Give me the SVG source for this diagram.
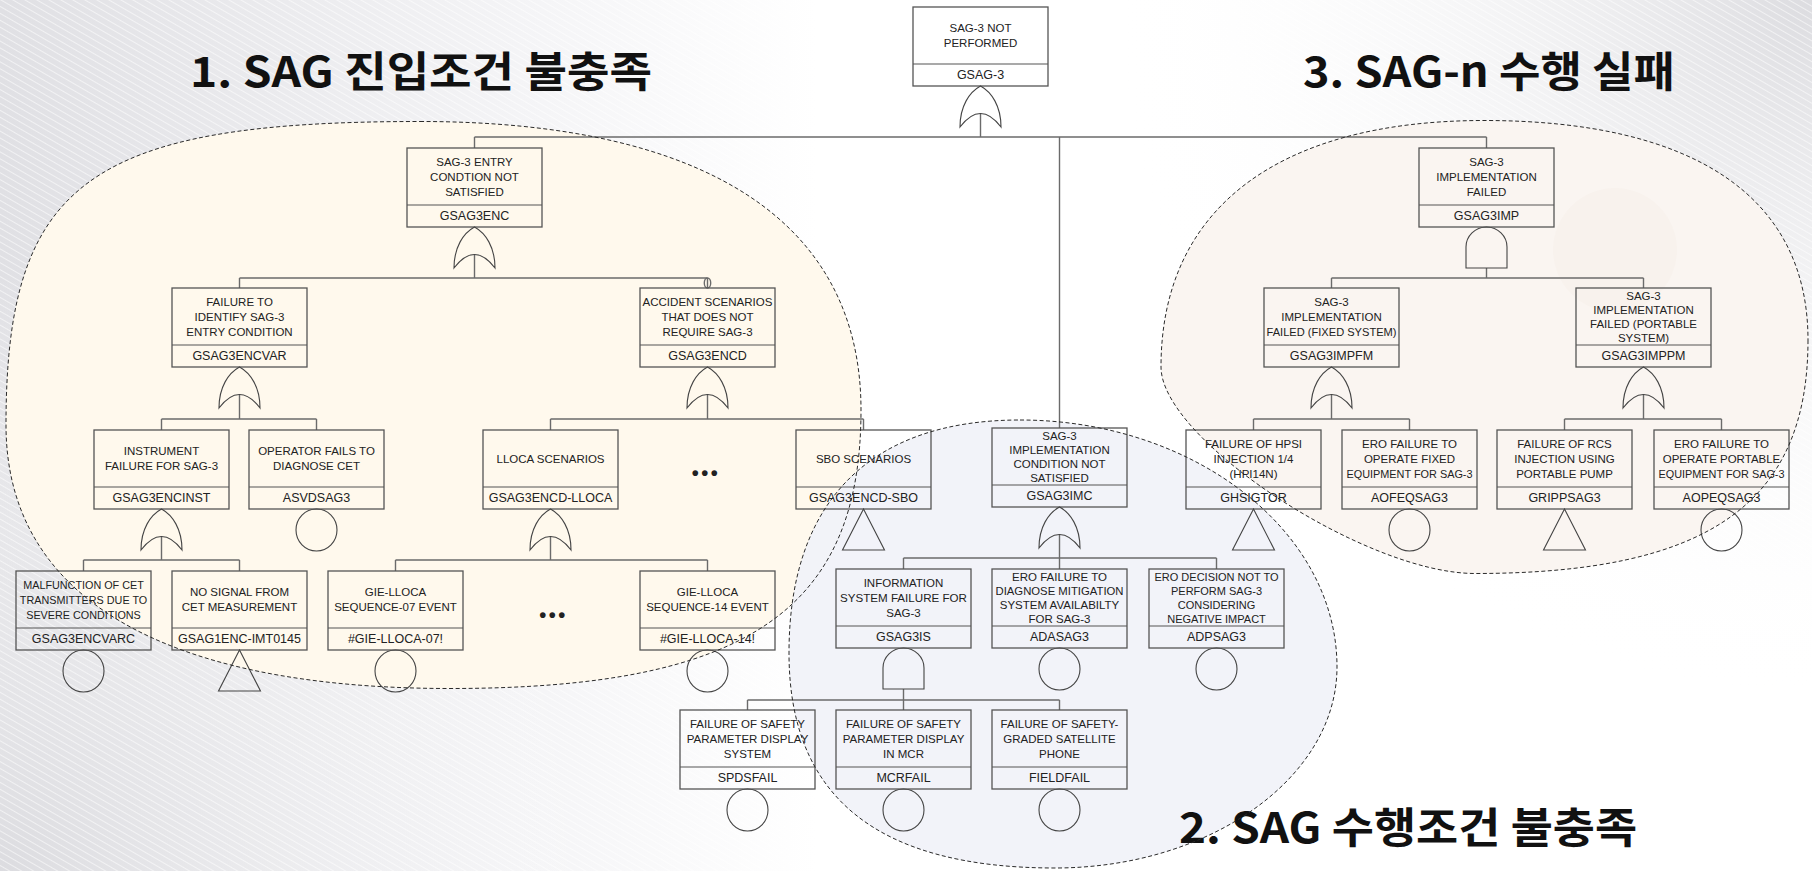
<svg xmlns="http://www.w3.org/2000/svg" width="1812" height="871" viewBox="0 0 1812 871">
<style>
.bx{fill:none;stroke:#555;stroke-width:1.3}
.dv{stroke:#555;stroke-width:1.2}
.t{font-family:"Liberation Sans",Arial,sans-serif;font-size:11.5px;fill:#222;text-anchor:middle;dominant-baseline:central}
.id{font-size:12.5px}
.sm{font-size:10.8px}
.s11{font-size:11px}
.gate{fill:none;stroke:#444;stroke-width:1.1}
.conn{fill:none;stroke:#6b6b6b;stroke-width:1.4}
.rl{fill:none;stroke:#2a2a2a;stroke-width:1;stroke-dasharray:4 2.5}
.ttl{font-family:"Noto Sans CJK KR","Noto Sans CJK SC",sans-serif;font-weight:700;font-size:42px;fill:#111}
.dots{font-family:"Liberation Sans",Arial,sans-serif;font-weight:700;font-size:20px;fill:#222;text-anchor:middle;dominant-baseline:central;letter-spacing:2.5px}
</style>
<defs>
<linearGradient id="bgL" x1="0" y1="0" x2="1" y2="0">
<stop offset="0" stop-color="#e0e0e4"/>
<stop offset="0.3" stop-color="#f5f5f7"/>
<stop offset="0.45" stop-color="#ffffff"/>
<stop offset="1" stop-color="#ffffff"/>
</linearGradient>
<radialGradient id="bgTR" cx="1812" cy="0" r="700" gradientUnits="userSpaceOnUse">
<stop offset="0" stop-color="#dcdce0" stop-opacity="1"/>
<stop offset="1" stop-color="#ffffff" stop-opacity="0"/>
</radialGradient>
<radialGradient id="bgBL" cx="0" cy="871" r="600" gradientUnits="userSpaceOnUse">
<stop offset="0" stop-color="#dcdce0" stop-opacity="1"/>
<stop offset="1" stop-color="#ffffff" stop-opacity="0"/>
</radialGradient>
<pattern id="hatch" width="6" height="6" patternUnits="userSpaceOnUse" patternTransform="rotate(-60)">
<line x1="0" y1="0" x2="0" y2="6" stroke="#ffffff" stroke-width="2" stroke-opacity="0.55"/>
</pattern>
<path id="or" d="M-20.5,41 C-20.5,20 -11,6 0,0 C11,6 20.5,20 20.5,41 Q0,14 -20.5,41 Z"/>
<path id="and" d="M-20.5,41 V20 A20.5,20 0 0 1 20.5,20 V41 Z"/>
<ellipse id="basic" cx="0" cy="21" rx="20.5" ry="21"/>
<path id="xfer" d="M0,0 L21,41 L-21,41 Z"/>
</defs>

<g id="background">
<rect x="0" y="0" width="1812" height="871" fill="url(#bgL)"/>
<rect x="0" y="0" width="1812" height="871" fill="url(#bgTR)"/>
<rect x="0" y="0" width="1812" height="871" fill="url(#bgBL)"/>
<rect x="0" y="0" width="1812" height="871" fill="url(#hatch)"/>
</g>

<g id="region-fills">
<path fill="#fff9ed" d="M420,121.5 C706.7,121.5 861,222.5 861,410 C861,610.5 746,688.5 450,688.5 C161.4,688.5 6,596.3 6,425 C6,182.2 88.8,121.5 420,121.5 Z"/>
<path fill="#faf5f1" d="M1808,340 C1808,503.5 1708,573.5 1475,573.5 C1365,573.5 1161,439.3 1161,367 C1161,209.2 1277.3,120.5 1484,120.5 C1694.6,120.5 1808,197.3 1808,340 Z"/>
<circle cx="1615" cy="250" r="62" fill="#a07050" fill-opacity="0.025"/>
<path fill="#f1f2f8" fill-opacity="0.92" d="M1020,420 C1194,420 1337,531 1337,667 C1337,777.6 1210,868 1055,868 C877,868 789,797 789,653 C789,501.5 869.8,420 1020,420 Z"/>
</g>

<g id="titles">
<text class="ttl" x="190" y="87" textLength="462" lengthAdjust="spacingAndGlyphs">1. SAG 진입조건 불충족</text>
<text class="ttl" x="1303" y="87" textLength="372" lengthAdjust="spacingAndGlyphs">3. SAG-n 수행 실패</text>
<text class="ttl" x="1179" y="843" textLength="458" lengthAdjust="spacingAndGlyphs">2. SAG 수행조건 불충족</text>
</g>

<g id="connectors" class="conn">
<path d="M980.5,113.5 V137 M474.5,137 H1486.5 M474.5,137 V148 M1059.5,137 V428 M1486.5,137 V148"/>
<path d="M474.5,254.5 V278 M239.5,278 H707.5 M239.5,278 V288 M707.5,278 V288"/>
<ellipse cx="707.5" cy="283" rx="3.2" ry="5" fill="none"/>
<path d="M1486.5,268 V278 M1331.5,278 H1643.5 M1331.5,278 V288 M1643.5,278 V288"/>
<path d="M239.5,394.5 V419 M161.5,419 H316.5 M161.5,419 V430 M316.5,419 V430"/>
<path d="M707.5,394.5 V419 M550.5,419 H863.5 M550.5,419 V430 M863.5,419 V430"/>
<path d="M1331.5,394.5 V419 M1253.5,419 H1409.5 M1253.5,419 V430 M1409.5,419 V430"/>
<path d="M1643.5,394.5 V419 M1564.5,419 H1721.5 M1564.5,419 V430 M1721.5,419 V430"/>
<path d="M161.5,536.5 V560 M83.5,560 H239.5 M83.5,560 V571 M239.5,560 V571"/>
<path d="M550.5,536.5 V560 M395.5,560 H707.5 M395.5,560 V571 M707.5,560 V571"/>
<path d="M1059.5,534.5 V558 M903.5,558 H1216.5 M903.5,558 V569 M1059.5,558 V569 M1216.5,558 V569"/>
<path d="M903.5,689 V700 M747.5,700 H1059.5 M747.5,700 V710 M903.5,700 V710 M1059.5,700 V710"/>
</g>

<g id="ellipsis">
<text class="dots" x="706" y="473">•••</text>
<text class="dots" x="553.5" y="615">•••</text>
</g>

<g id="n-GSAG-3">
<rect class="bx" x="913" y="7" width="135" height="79"/>
<line class="dv" x1="913" y1="64" x2="1048" y2="64"/>
<text class="t" x="980.5" y="28">SAG-3 NOT</text>
<text class="t" x="980.5" y="43">PERFORMED</text>
<text class="t id" x="980.5" y="75">GSAG-3</text>
<use href="#or" x="980.5" y="86" class="gate"/>
</g>

<g id="n-GSAG3ENC">
<rect class="bx" x="407" y="148" width="135" height="79"/>
<line class="dv" x1="407" y1="205" x2="542" y2="205"/>
<text class="t" x="474.5" y="161.5">SAG-3 ENTRY</text>
<text class="t" x="474.5" y="176.5">CONDTION NOT</text>
<text class="t" x="474.5" y="191.5">SATISFIED</text>
<text class="t id" x="474.5" y="216">GSAG3ENC</text>
<use href="#or" x="474.5" y="227" class="gate"/>
</g>

<g id="n-GSAG3IMP">
<rect class="bx" x="1419" y="148" width="135" height="79"/>
<line class="dv" x1="1419" y1="205" x2="1554" y2="205"/>
<text class="t" x="1486.5" y="161.5">SAG-3</text>
<text class="t" x="1486.5" y="176.5">IMPLEMENTATION</text>
<text class="t" x="1486.5" y="191.5">FAILED</text>
<text class="t id" x="1486.5" y="216">GSAG3IMP</text>
<use href="#and" x="1486.5" y="227" class="gate"/>
</g>

<g id="n-GSAG3IMC">
<rect class="bx" x="992" y="428" width="135" height="79"/>
<line class="dv" x1="992" y1="485" x2="1127" y2="485"/>
<text class="t" x="1059.5" y="435.5">SAG-3</text>
<text class="t" x="1059.5" y="449.5">IMPLEMENTATION</text>
<text class="t" x="1059.5" y="463.5">CONDITION NOT</text>
<text class="t" x="1059.5" y="477.5">SATISFIED</text>
<text class="t id" x="1059.5" y="496">GSAG3IMC</text>
<use href="#or" x="1059.5" y="507" class="gate"/>
</g>

<g id="n-GSAG3ENCVAR">
<rect class="bx" x="172" y="288" width="135" height="79"/>
<line class="dv" x1="172" y1="345" x2="307" y2="345"/>
<text class="t" x="239.5" y="301.5">FAILURE TO</text>
<text class="t" x="239.5" y="316.5">IDENTIFY SAG-3</text>
<text class="t" x="239.5" y="331.5">ENTRY CONDITION</text>
<text class="t id" x="239.5" y="356">GSAG3ENCVAR</text>
<use href="#or" x="239.5" y="367" class="gate"/>
</g>

<g id="n-GSAG3ENCD">
<rect class="bx" x="640" y="288" width="135" height="79"/>
<line class="dv" x1="640" y1="345" x2="775" y2="345"/>
<text class="t" x="707.5" y="301.5" textLength="130" lengthAdjust="spacingAndGlyphs">ACCIDENT SCENARIOS</text>
<text class="t" x="707.5" y="316.5">THAT DOES NOT</text>
<text class="t" x="707.5" y="331.5">REQUIRE SAG-3</text>
<text class="t id" x="707.5" y="356">GSAG3ENCD</text>
<use href="#or" x="707.5" y="367" class="gate"/>
</g>

<g id="n-GSAG3IMPFM">
<rect class="bx" x="1264" y="288" width="135" height="79"/>
<line class="dv" x1="1264" y1="345" x2="1399" y2="345"/>
<text class="t" x="1331.5" y="301.5">SAG-3</text>
<text class="t" x="1331.5" y="316.5">IMPLEMENTATION</text>
<text class="t" x="1331.5" y="331.5" textLength="130" lengthAdjust="spacingAndGlyphs">FAILED (FIXED SYSTEM)</text>
<text class="t id" x="1331.5" y="356">GSAG3IMPFM</text>
<use href="#or" x="1331.5" y="367" class="gate"/>
</g>

<g id="n-GSAG3IMPPM">
<rect class="bx" x="1576" y="288" width="135" height="79"/>
<line class="dv" x1="1576" y1="345" x2="1711" y2="345"/>
<text class="t" x="1643.5" y="295.5">SAG-3</text>
<text class="t" x="1643.5" y="309.5">IMPLEMENTATION</text>
<text class="t" x="1643.5" y="323.5">FAILED (PORTABLE</text>
<text class="t" x="1643.5" y="337.5">SYSTEM)</text>
<text class="t id" x="1643.5" y="356">GSAG3IMPPM</text>
<use href="#or" x="1643.5" y="367" class="gate"/>
</g>

<g id="n-GSAG3ENCINST">
<rect class="bx" x="94" y="430" width="135" height="79"/>
<line class="dv" x1="94" y1="487" x2="229" y2="487"/>
<text class="t" x="161.5" y="451">INSTRUMENT</text>
<text class="t" x="161.5" y="466">FAILURE FOR SAG-3</text>
<text class="t id" x="161.5" y="498">GSAG3ENCINST</text>
<use href="#or" x="161.5" y="509" class="gate"/>
</g>

<g id="n-ASVDSAG3">
<rect class="bx" x="249" y="430" width="135" height="79"/>
<line class="dv" x1="249" y1="487" x2="384" y2="487"/>
<text class="t" x="316.5" y="451">OPERATOR FAILS TO</text>
<text class="t" x="316.5" y="466">DIAGNOSE CET</text>
<text class="t id" x="316.5" y="498">ASVDSAG3</text>
<use href="#basic" x="316.5" y="509" class="gate"/>
</g>

<g id="n-GSAG3ENCD-LLOCA">
<rect class="bx" x="483" y="430" width="135" height="79"/>
<line class="dv" x1="483" y1="487" x2="618" y2="487"/>
<text class="t" x="550.5" y="458.5">LLOCA SCENARIOS</text>
<text class="t id" x="550.5" y="498">GSAG3ENCD-LLOCA</text>
<use href="#or" x="550.5" y="509" class="gate"/>
</g>

<g id="n-GSAG3ENCD-SBO">
<rect class="bx" x="796" y="430" width="135" height="79"/>
<line class="dv" x1="796" y1="487" x2="931" y2="487"/>
<text class="t" x="863.5" y="458.5">SBO SCENARIOS</text>
<text class="t id" x="863.5" y="498">GSAG3ENCD-SBO</text>
<use href="#xfer" x="863.5" y="509" class="gate"/>
</g>

<g id="n-GHSIGTOR">
<rect class="bx" x="1186" y="430" width="135" height="79"/>
<line class="dv" x1="1186" y1="487" x2="1321" y2="487"/>
<text class="t" x="1253.5" y="443.5">FAILURE OF HPSI</text>
<text class="t" x="1253.5" y="458.5">INJECTION 1/4</text>
<text class="t" x="1253.5" y="473.5">(HPI14N)</text>
<text class="t id" x="1253.5" y="498">GHSIGTOR</text>
<use href="#xfer" x="1253.5" y="509" class="gate"/>
</g>

<g id="n-AOFEQSAG3">
<rect class="bx" x="1342" y="430" width="135" height="79"/>
<line class="dv" x1="1342" y1="487" x2="1477" y2="487"/>
<text class="t" x="1409.5" y="443.5">ERO FAILURE TO</text>
<text class="t" x="1409.5" y="458.5">OPERATE FIXED</text>
<text class="t" x="1409.5" y="473.5" textLength="126" lengthAdjust="spacingAndGlyphs">EQUIPMENT FOR SAG-3</text>
<text class="t id" x="1409.5" y="498">AOFEQSAG3</text>
<use href="#basic" x="1409.5" y="509" class="gate"/>
</g>

<g id="n-GRIPPSAG3">
<rect class="bx" x="1497" y="430" width="135" height="79"/>
<line class="dv" x1="1497" y1="487" x2="1632" y2="487"/>
<text class="t" x="1564.5" y="443.5">FAILURE OF RCS</text>
<text class="t" x="1564.5" y="458.5">INJECTION USING</text>
<text class="t" x="1564.5" y="473.5">PORTABLE PUMP</text>
<text class="t id" x="1564.5" y="498">GRIPPSAG3</text>
<use href="#xfer" x="1564.5" y="509" class="gate"/>
</g>

<g id="n-AOPEQSAG3">
<rect class="bx" x="1654" y="430" width="135" height="79"/>
<line class="dv" x1="1654" y1="487" x2="1789" y2="487"/>
<text class="t" x="1721.5" y="443.5">ERO FAILURE TO</text>
<text class="t" x="1721.5" y="458.5">OPERATE PORTABLE</text>
<text class="t" x="1721.5" y="473.5" textLength="126" lengthAdjust="spacingAndGlyphs">EQUIPMENT FOR SAG-3</text>
<text class="t id" x="1721.5" y="498">AOPEQSAG3</text>
<use href="#basic" x="1721.5" y="509" class="gate"/>
</g>

<g id="n-GSAG3ENCVARC">
<rect class="bx" x="16" y="571" width="135" height="79"/>
<line class="dv" x1="16" y1="628" x2="151" y2="628"/>
<text class="t sm" x="83.5" y="584.5">MALFUNCTION OF CET</text>
<text class="t sm" x="83.5" y="599.5">TRANSMITTERS DUE TO</text>
<text class="t sm" x="83.5" y="614.5">SEVERE CONDITIONS</text>
<text class="t id" x="83.5" y="639">GSAG3ENCVARC</text>
<use href="#basic" x="83.5" y="650" class="gate"/>
</g>

<g id="n-GSAG1ENC-IMT0145">
<rect class="bx" x="172" y="571" width="135" height="79"/>
<line class="dv" x1="172" y1="628" x2="307" y2="628"/>
<text class="t" x="239.5" y="592">NO SIGNAL FROM</text>
<text class="t" x="239.5" y="607">CET MEASUREMENT</text>
<text class="t id" x="239.5" y="639">GSAG1ENC-IMT0145</text>
<use href="#xfer" x="239.5" y="650" class="gate"/>
</g>

<g id="n-GIE-LLOCA-07">
<rect class="bx" x="328" y="571" width="135" height="79"/>
<line class="dv" x1="328" y1="628" x2="463" y2="628"/>
<text class="t" x="395.5" y="592">GIE-LLOCA</text>
<text class="t" x="395.5" y="607">SEQUENCE-07 EVENT</text>
<text class="t id" x="395.5" y="639">#GIE-LLOCA-07!</text>
<use href="#basic" x="395.5" y="650" class="gate"/>
</g>

<g id="n-GIE-LLOCA-14">
<rect class="bx" x="640" y="571" width="135" height="79"/>
<line class="dv" x1="640" y1="628" x2="775" y2="628"/>
<text class="t" x="707.5" y="592">GIE-LLOCA</text>
<text class="t" x="707.5" y="607">SEQUENCE-14 EVENT</text>
<text class="t id" x="707.5" y="639">#GIE-LLOCA-14!</text>
<use href="#basic" x="707.5" y="650" class="gate"/>
</g>

<g id="n-GSAG3IS">
<rect class="bx" x="836" y="569" width="135" height="79"/>
<line class="dv" x1="836" y1="626" x2="971" y2="626"/>
<text class="t" x="903.5" y="582.5">INFORMATION</text>
<text class="t" x="903.5" y="597.5" textLength="127" lengthAdjust="spacingAndGlyphs">SYSTEM FAILURE FOR</text>
<text class="t" x="903.5" y="612.5">SAG-3</text>
<text class="t id" x="903.5" y="637">GSAG3IS</text>
<use href="#and" x="903.5" y="648" class="gate"/>
</g>

<g id="n-ADASAG3">
<rect class="bx" x="992" y="569" width="135" height="79"/>
<line class="dv" x1="992" y1="626" x2="1127" y2="626"/>
<text class="t" x="1059.5" y="576.5">ERO FAILURE TO</text>
<text class="t" x="1059.5" y="590.5" textLength="128" lengthAdjust="spacingAndGlyphs">DIAGNOSE MITIGATION</text>
<text class="t" x="1059.5" y="604.5">SYSTEM AVAILABILTY</text>
<text class="t" x="1059.5" y="618.5">FOR SAG-3</text>
<text class="t id" x="1059.5" y="637">ADASAG3</text>
<use href="#basic" x="1059.5" y="648" class="gate"/>
</g>

<g id="n-ADPSAG3">
<rect class="bx" x="1149" y="569" width="135" height="79"/>
<line class="dv" x1="1149" y1="626" x2="1284" y2="626"/>
<text class="t s11" x="1216.5" y="576.5">ERO DECISION NOT TO</text>
<text class="t s11" x="1216.5" y="590.5">PERFORM SAG-3</text>
<text class="t s11" x="1216.5" y="604.5">CONSIDERING</text>
<text class="t s11" x="1216.5" y="618.5">NEGATIVE IMPACT</text>
<text class="t id" x="1216.5" y="637">ADPSAG3</text>
<use href="#basic" x="1216.5" y="648" class="gate"/>
</g>

<g id="n-SPDSFAIL">
<rect class="bx" x="680" y="710" width="135" height="79"/>
<line class="dv" x1="680" y1="767" x2="815" y2="767"/>
<text class="t" x="747.5" y="723.5">FAILURE OF SAFETY</text>
<text class="t" x="747.5" y="738.5">PARAMETER DISPLAY</text>
<text class="t" x="747.5" y="753.5">SYSTEM</text>
<text class="t id" x="747.5" y="778">SPDSFAIL</text>
<use href="#basic" x="747.5" y="789" class="gate"/>
</g>

<g id="n-MCRFAIL">
<rect class="bx" x="836" y="710" width="135" height="79"/>
<line class="dv" x1="836" y1="767" x2="971" y2="767"/>
<text class="t" x="903.5" y="723.5">FAILURE OF SAFETY</text>
<text class="t" x="903.5" y="738.5">PARAMETER DISPLAY</text>
<text class="t" x="903.5" y="753.5">IN MCR</text>
<text class="t id" x="903.5" y="778">MCRFAIL</text>
<use href="#basic" x="903.5" y="789" class="gate"/>
</g>

<g id="n-FIELDFAIL">
<rect class="bx" x="992" y="710" width="135" height="79"/>
<line class="dv" x1="992" y1="767" x2="1127" y2="767"/>
<text class="t" x="1059.5" y="723.5">FAILURE OF SAFETY-</text>
<text class="t" x="1059.5" y="738.5">GRADED SATELLITE</text>
<text class="t" x="1059.5" y="753.5">PHONE</text>
<text class="t id" x="1059.5" y="778">FIELDFAIL</text>
<use href="#basic" x="1059.5" y="789" class="gate"/>
</g>

<g id="region-outlines" class="rl">
<path d="M420,121.5 C706.7,121.5 861,222.5 861,410 C861,610.5 746,688.5 450,688.5 C161.4,688.5 6,596.3 6,425 C6,182.2 88.8,121.5 420,121.5 Z"/>
<path d="M1808,340 C1808,503.5 1708,573.5 1475,573.5 C1365,573.5 1161,439.3 1161,367 C1161,209.2 1277.3,120.5 1484,120.5 C1694.6,120.5 1808,197.3 1808,340 Z"/>
<path d="M1020,420 C1194,420 1337,531 1337,667 C1337,777.6 1210,868 1055,868 C877,868 789,797 789,653 C789,501.5 869.8,420 1020,420 Z"/>
</g>
</svg>
